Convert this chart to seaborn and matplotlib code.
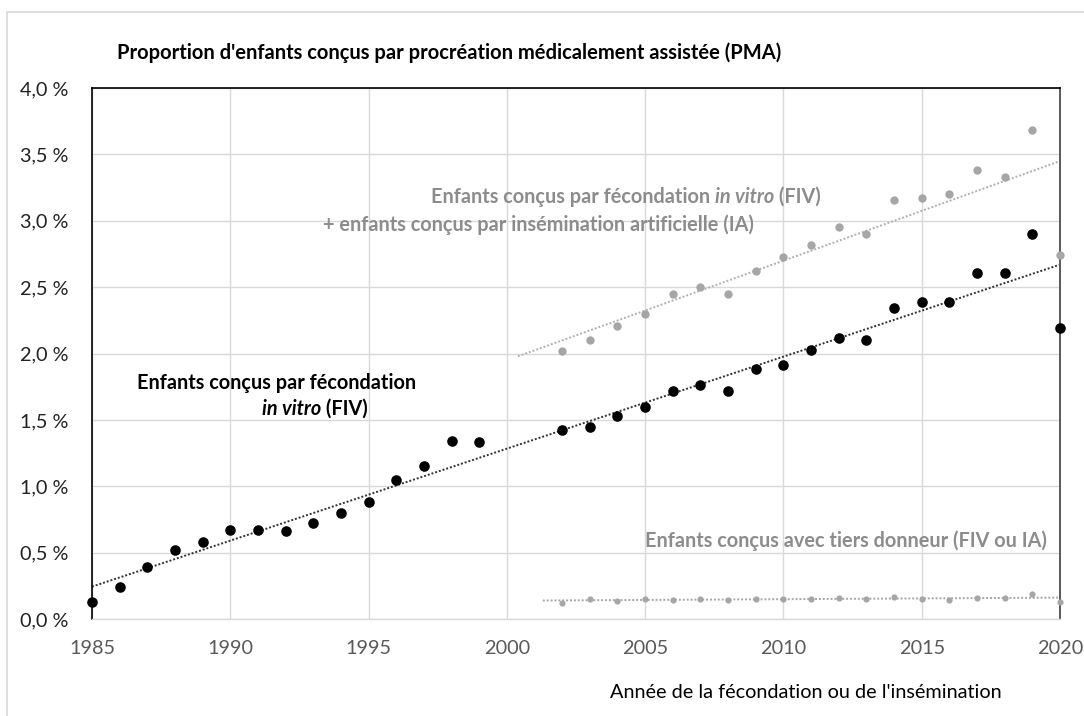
import numpy as np
import pandas as pd
import matplotlib
matplotlib.use("Agg")
import matplotlib.pyplot as plt
import seaborn as sns
from matplotlib.patches import Rectangle

# ---------------- data ----------------
years_fiv = [1985, 1986, 1987, 1988, 1989, 1990, 1991, 1992, 1993, 1994, 1995,
             1996, 1997, 1998, 1999, 2002, 2003, 2004, 2005, 2006, 2007, 2008,
             2009, 2010, 2011, 2012, 2013, 2014, 2015, 2016, 2017, 2018, 2019, 2020]
fiv = [0.13, 0.24, 0.39, 0.52, 0.58, 0.67, 0.67, 0.66, 0.72, 0.80, 0.88,
       1.05, 1.15, 1.34, 1.33, 1.42, 1.45, 1.53, 1.60, 1.72, 1.76, 1.72,
       1.88, 1.91, 2.03, 2.12, 2.10, 2.34, 2.39, 2.39, 2.61, 2.61, 2.90, 2.19]

years_pma = [2002, 2003, 2004, 2005, 2006, 2007, 2008, 2009, 2010, 2011,
             2012, 2013, 2014, 2015, 2016, 2017, 2018, 2019, 2020]
fiv_ia = [2.02, 2.10, 2.21, 2.30, 2.45, 2.50, 2.45, 2.62, 2.73, 2.82,
          2.95, 2.90, 3.16, 3.17, 3.20, 3.38, 3.33, 3.68, 2.74]
donneur = [0.12, 0.15, 0.135, 0.153, 0.143, 0.153, 0.14, 0.153, 0.153, 0.153,
           0.156, 0.153, 0.165, 0.153, 0.146, 0.16, 0.158, 0.185, 0.13]

x_ticks = [1985, 1990, 1995, 2000, 2005, 2010, 2015, 2020]
y_ticks = [0.0, 0.5, 1.0, 1.5, 2.0, 2.5, 3.0, 3.5, 4.0]
y_tick_labels = ["0,0 %", "0,5 %", "1,0 %", "1,5 %", "2,0 %", "2,5 %", "3,0 %", "3,5 %", "4,0 %"]

title = "Proportion d'enfants conçus par procréation médicalement assistée (PMA)"
xlabel = "Année de la fécondation ou de l'insémination"

df_fiv = pd.DataFrame({"annee": years_fiv, "valeur": fiv})
df_pma = pd.DataFrame({"annee": years_pma, "fiv_ia": fiv_ia, "donneur": donneur})

# ---------------- style ----------------
sns.set_theme(style="whitegrid")
FONT = ["Lato", "DejaVu Sans"]
plt.rcParams["font.family"] = FONT

W, H = 1084, 716
fig = plt.figure(figsize=(W / 100, H / 100), dpi=100)
ax = fig.add_axes([92 / W, 1 - 619 / H, (1060 - 92) / W, (619 - 88) / H])

def fx(px):
    return px / W

def fy(py):
    return 1 - py / H

BLACK = "#000000"
GREY = "#a6a6a6"
TXT_GREY = "#8c8c8c"
FS = 14.3

# trend lines (least-squares fits of the data)
def trend(xs, ys, x0, x1, **kw):
    p = np.polyfit(xs, ys, 1)
    xx = np.array([x0, x1])
    ax.plot(xx, np.polyval(p, xx), **kw)

trend(years_fiv, fiv, 1985, 2020, color="#333333", ls=(0, (1, 1)), lw=1.4, zorder=2)
trend(years_pma, fiv_ia, 2000.4, 2020, color="#b0b0b0", ls=(0, (1, 1)), lw=1.4, zorder=2)
trend(years_pma, donneur, 2001.3, 2020, color="#a6a6a6", ls=(0, (1, 1)), lw=1.4, zorder=2)

sns.scatterplot(data=df_fiv, x="annee", y="valeur", ax=ax, color=BLACK, s=58,
                linewidth=0, zorder=4, clip_on=False)
sns.scatterplot(data=df_pma, x="annee", y="fiv_ia", ax=ax, color=GREY, s=36,
                linewidth=0, zorder=4, clip_on=False)
sns.scatterplot(data=df_pma, x="annee", y="donneur", ax=ax, color=GREY, s=20,
                linewidth=0, zorder=4, clip_on=False)

ax.set_xlim(1985, 2020)
ax.set_ylim(0, 4.0)
ax.set_xticks(x_ticks)
ax.set_yticks(y_ticks)
ax.set_yticklabels(y_tick_labels)
ax.set_xlabel("")
ax.set_ylabel("")
ax.grid(True, color="#d9d9d9", lw=1.0)
ax.tick_params(axis="y", labelsize=FS, labelcolor="#222222", pad=17, length=0)
ax.tick_params(axis="x", labelsize=FS, labelcolor="#595959", pad=15, length=0)

for side in ["left", "top"]:
    ax.spines[side].set_color("#000000")
    ax.spines[side].set_linewidth(1.2)
ax.spines["right"].set_color("#595959")
ax.spines["right"].set_linewidth(1.4)
ax.spines["bottom"].set_color("#d9d9d9")
ax.spines["bottom"].set_linewidth(1.0)

# outer chart frame
fig.patches.append(Rectangle((fx(7), -0.1), 1.2, fy(12) + 0.1, transform=fig.transFigure,
                             fill=False, edgecolor="#d9d9d9", lw=1.2, zorder=0))

# texts
fig.text(fx(117), fy(53), title, fontsize=14.5, fontweight="bold", color="#000000",
         va="center", ha="left")
fig.text(fx(610), fy(692), xlabel, fontsize=FS, color="#000000", va="center", ha="left")

def mixed(x, y, parts, color, size=FS):
    prev = None
    for txt, style in parts:
        kw = dict(fontsize=size, fontweight="bold", color=color, fontstyle=style)
        if prev is None:
            prev = fig.text(fx(x), fy(y), txt, va="center", ha="left", **kw)
        else:
            prev = ax.annotate(txt, xy=(1, 0), xycoords=prev, va="bottom", ha="left",
                               annotation_clip=False, **kw)
    return prev

mixed(137, 383, [("Enfants conçus par fécondation", "normal")], BLACK)
mixed(262, 409, [("in vitro", "italic"), (" (FIV)", "normal")], BLACK)
mixed(431, 197, [("Enfants conçus par fécondation ", "normal"), ("in vitro", "italic"),
                 (" (FIV)", "normal")], TXT_GREY)
mixed(323, 225, [("+ enfants conçus par insémination artificielle (IA)", "normal")], TXT_GREY)
mixed(645, 541, [("Enfants conçus avec tiers donneur (FIV ou IA)", "normal")], TXT_GREY)

fig.savefig("out.png", dpi=100)
